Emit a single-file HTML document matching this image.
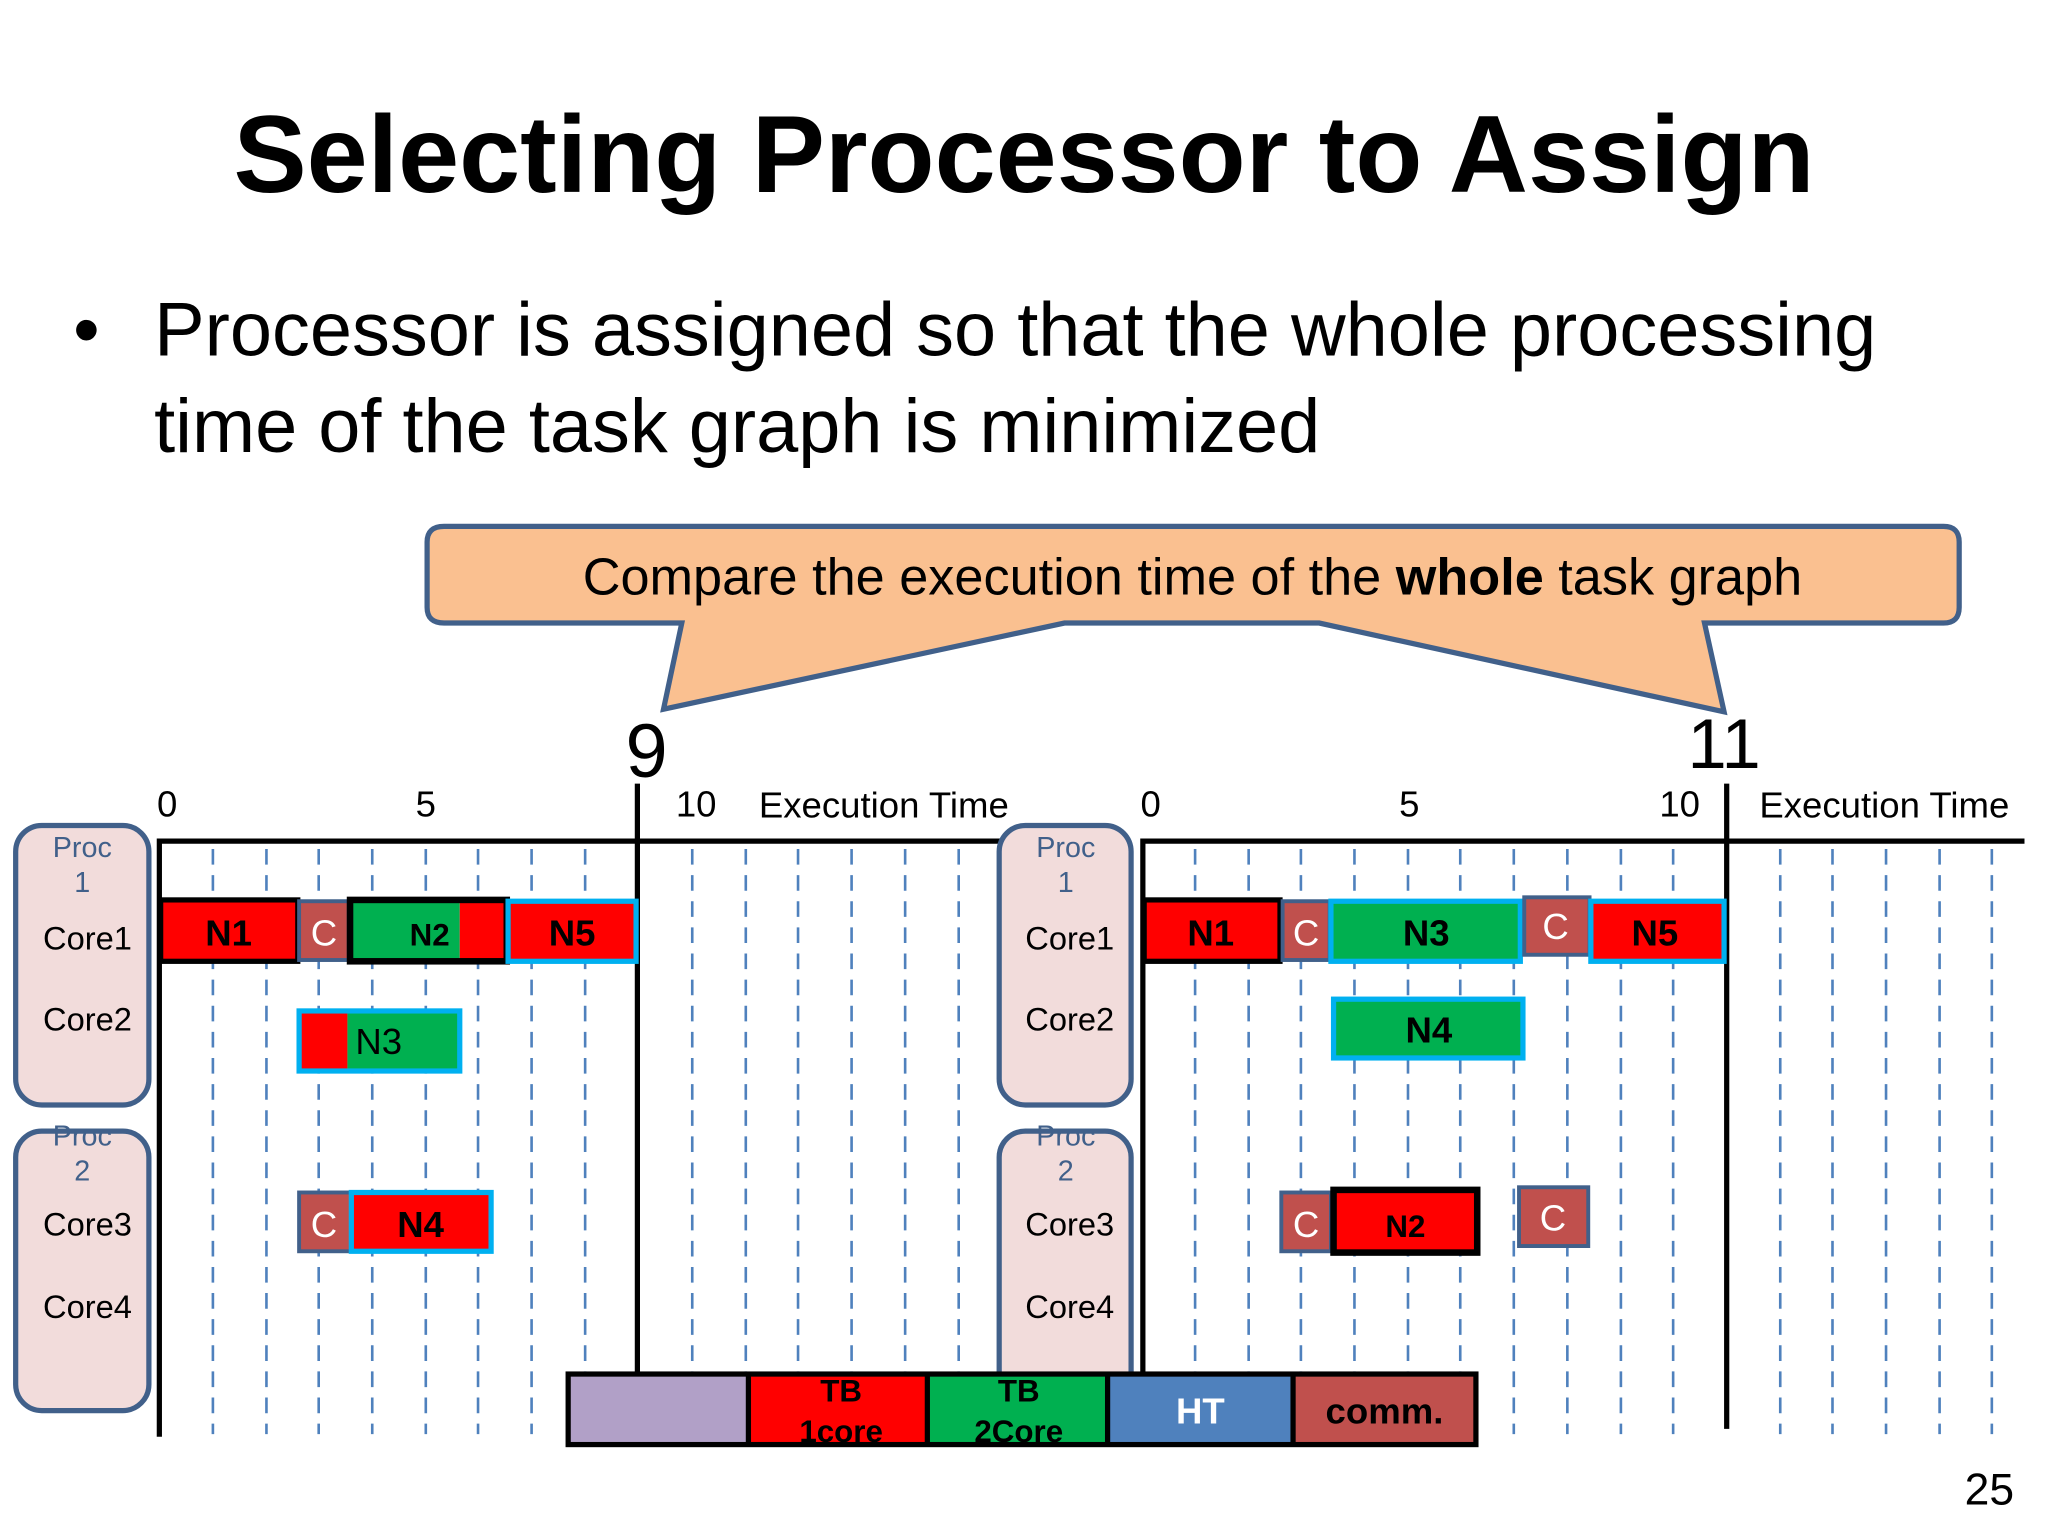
<!DOCTYPE html>
<html><head><meta charset="utf-8"><style>
html,body{margin:0;padding:0;background:#fff;}
svg{display:block;}
text{font-family:"Liberation Sans",sans-serif;}
</style></head><body>
<svg width="2048" height="1536" viewBox="0 0 1568 1176" xmlns="http://www.w3.org/2000/svg">
<rect width="1568" height="1176" fill="#fff"/>
<text x="784" y="147" font-size="84" font-weight="bold" text-anchor="middle">Selecting Processor to Assign</text>
<text x="56" y="272" font-size="58">•</text>
<text x="118" y="272" font-size="58">Processor is assigned so that the whole processing</text>
<text x="118" y="346" font-size="58">time of the task graph is minimized</text>

<!-- callout -->
<path d="M340,403 H1488 Q1500,403 1500,415 V465 Q1500,477 1488,477 H1305 L1320,545 L1010,477 H815 L508,543 L522,477 H340 Q327,477 327,465 V415 Q327,403 340,403 Z" fill="#fac090" stroke="#41608a" stroke-width="4"/>
<text x="913" y="455" font-size="40" text-anchor="middle">Compare the execution time of the <tspan font-weight="bold">whole</tspan> task graph</text>
<text x="495" y="595" font-size="58" text-anchor="middle">9</text>
<text x="1320" y="588" font-size="54" text-anchor="middle">11</text>

<!-- dashed grid -->
<g stroke="#4f81bd" stroke-width="2" stroke-dasharray="12,8">
<line x1="163" y1="650" x2="163" y2="1098"/><line x1="204" y1="650" x2="204" y2="1098"/><line x1="244" y1="650" x2="244" y2="1098"/><line x1="285" y1="650" x2="285" y2="1098"/><line x1="326" y1="650" x2="326" y2="1098"/><line x1="366" y1="650" x2="366" y2="1098"/><line x1="407" y1="650" x2="407" y2="1098"/><line x1="448" y1="650" x2="448" y2="1098"/><line x1="530" y1="650" x2="530" y2="1098"/><line x1="571" y1="650" x2="571" y2="1098"/><line x1="611" y1="650" x2="611" y2="1098"/><line x1="652" y1="650" x2="652" y2="1098"/><line x1="693" y1="650" x2="693" y2="1098"/><line x1="734" y1="650" x2="734" y2="1098"/>
<line x1="915" y1="650" x2="915" y2="1098"/><line x1="956" y1="650" x2="956" y2="1098"/><line x1="996" y1="650" x2="996" y2="1098"/><line x1="1037" y1="650" x2="1037" y2="1098"/><line x1="1078" y1="650" x2="1078" y2="1098"/><line x1="1118" y1="650" x2="1118" y2="1098"/><line x1="1159" y1="650" x2="1159" y2="1098"/><line x1="1200" y1="650" x2="1200" y2="1098"/><line x1="1241" y1="650" x2="1241" y2="1098"/><line x1="1281" y1="650" x2="1281" y2="1098"/><line x1="1363" y1="650" x2="1363" y2="1098"/><line x1="1403" y1="650" x2="1403" y2="1098"/><line x1="1444" y1="650" x2="1444" y2="1098"/><line x1="1485" y1="650" x2="1485" y2="1098"/><line x1="1525" y1="650" x2="1525" y2="1098"/>
</g>

<!-- axes -->
<g stroke="#000" stroke-width="4">
<line x1="122" y1="644" x2="766" y2="644"/><line x1="122" y1="642" x2="122" y2="1100"/><line x1="488" y1="600" x2="488" y2="1052"/>
<line x1="875" y1="644" x2="1550" y2="644"/><line x1="875" y1="642" x2="875" y2="1094"/><line x1="1322" y1="600" x2="1322" y2="1094"/>
</g>
<g font-size="28">
<text x="128" y="625" text-anchor="middle">0</text><text x="326" y="625" text-anchor="middle">5</text><text x="533" y="625" text-anchor="middle">10</text><text x="581" y="626">Execution Time</text>
<text x="881" y="625" text-anchor="middle">0</text><text x="1079" y="625" text-anchor="middle">5</text><text x="1286" y="625" text-anchor="middle">10</text><text x="1347" y="626">Execution Time</text>
</g>

<!-- proc boxes -->
<g fill="#f2dcdb" stroke="#41608a" stroke-width="4">
<rect x="12" y="632" width="102" height="214" rx="20"/><rect x="12" y="866" width="102" height="214" rx="20"/>
<rect x="765" y="632" width="101" height="214" rx="20"/><rect x="765" y="866" width="101" height="230" rx="20"/>
</g>
<g font-size="22" fill="#41608a" text-anchor="middle">
<text x="63" y="656">Proc</text><text x="63" y="683">1</text><text x="63" y="877">Proc</text><text x="63" y="904">2</text>
<text x="816" y="656">Proc</text><text x="816" y="683">1</text><text x="816" y="877">Proc</text><text x="816" y="904">2</text>
</g>
<g font-size="25" text-anchor="middle">
<text x="67" y="727">Core1</text><text x="67" y="789">Core2</text><text x="67" y="946">Core3</text><text x="67" y="1009">Core4</text>
<text x="819" y="727">Core1</text><text x="819" y="789">Core2</text><text x="819" y="946">Core3</text><text x="819" y="1009">Core4</text>
</g>

<!-- left bars -->
<rect x="123" y="689" width="105" height="47" fill="#f00" stroke="#000" stroke-width="4"/>
<rect x="229" y="690" width="38" height="45" fill="#c0504d" stroke="#41608a" stroke-width="3"/>
<rect x="268" y="689" width="84" height="47" fill="#00b050"/>
<rect x="352" y="689" width="36" height="47" fill="#f00"/>
<rect x="268" y="689" width="120" height="47" fill="none" stroke="#000" stroke-width="5"/>
<rect x="389" y="690" width="98" height="46" fill="#f00" stroke="#00b0f0" stroke-width="4"/>
<rect x="229" y="774" width="37" height="46" fill="#f00"/>
<rect x="266" y="774" width="86" height="46" fill="#00b050"/>
<rect x="229" y="774" width="123" height="46" fill="none" stroke="#00b0f0" stroke-width="4"/>
<rect x="229" y="913" width="40" height="45" fill="#c0504d" stroke="#41608a" stroke-width="3"/>
<rect x="269" y="913" width="107" height="45" fill="#f00" stroke="#00b0f0" stroke-width="4"/>
<g font-weight="bold" text-anchor="middle">
<text x="175" y="724" font-size="28">N1</text><text x="329" y="724" font-size="24">N2</text><text x="438" y="724" font-size="28">N5</text><text x="322" y="947" font-size="28">N4</text>
</g>
<text x="290" y="807" font-size="28" text-anchor="middle">N3</text>
<text x="248" y="724" font-size="28" fill="#fff" text-anchor="middle">C</text>
<text x="248" y="947" font-size="28" fill="#fff" text-anchor="middle">C</text>

<!-- right bars -->
<rect x="876" y="689" width="104" height="47" fill="#f00" stroke="#000" stroke-width="4"/>
<rect x="982" y="690" width="36" height="45" fill="#c0504d" stroke="#41608a" stroke-width="3"/>
<rect x="1019" y="690" width="145" height="46" fill="#00b050" stroke="#00b0f0" stroke-width="4"/>
<rect x="1167" y="687" width="50" height="44" fill="#c0504d" stroke="#41608a" stroke-width="3"/>
<rect x="1218" y="690" width="102" height="46" fill="#f00" stroke="#00b0f0" stroke-width="4"/>
<rect x="1021" y="765" width="145" height="45" fill="#00b050" stroke="#00b0f0" stroke-width="4"/>
<rect x="981" y="913" width="38" height="45" fill="#c0504d" stroke="#41608a" stroke-width="3"/>
<rect x="1021" y="911" width="110" height="48" fill="#f00" stroke="#000" stroke-width="5"/>
<rect x="1163" y="909" width="53" height="45" fill="#c0504d" stroke="#41608a" stroke-width="3"/>
<g font-weight="bold" text-anchor="middle">
<text x="927" y="724" font-size="28">N1</text><text x="1092" y="724" font-size="28">N3</text><text x="1267" y="724" font-size="28">N5</text><text x="1094" y="798" font-size="28">N4</text><text x="1076" y="947" font-size="24">N2</text>
</g>
<g font-size="28" fill="#fff" text-anchor="middle">
<text x="1000" y="724">C</text><text x="1191" y="719">C</text><text x="1000" y="947">C</text><text x="1189" y="942">C</text>
</g>

<!-- legend -->
<rect x="435" y="1052" width="138" height="54" fill="#b1a0c7"/>
<rect x="573" y="1052" width="137" height="54" fill="#f00"/>
<rect x="710" y="1052" width="138" height="54" fill="#00b050"/>
<rect x="848" y="1052" width="142" height="54" fill="#4f81bd"/>
<rect x="990" y="1052" width="140" height="54" fill="#c0504d"/>
<g stroke="#000" stroke-width="4" fill="none">
<rect x="435" y="1052" width="695" height="54"/><line x1="573" y1="1052" x2="573" y2="1106"/><line x1="710" y1="1052" x2="710" y2="1106"/><line x1="848" y1="1052" x2="848" y2="1106"/><line x1="990" y1="1052" x2="990" y2="1106"/>
</g>
<g font-weight="bold" text-anchor="middle" font-size="24">
<text x="644" y="1073">TB</text><text x="644" y="1104">1core</text>
<text x="780" y="1073">TB</text><text x="780" y="1104">2Core</text>
<text x="919" y="1090" font-size="28" fill="#fff">HT</text>
<text x="1060" y="1090" font-size="28">comm.</text>
</g>
<text x="1542" y="1152" font-size="34" text-anchor="end">25</text>
</svg>
</body></html>
